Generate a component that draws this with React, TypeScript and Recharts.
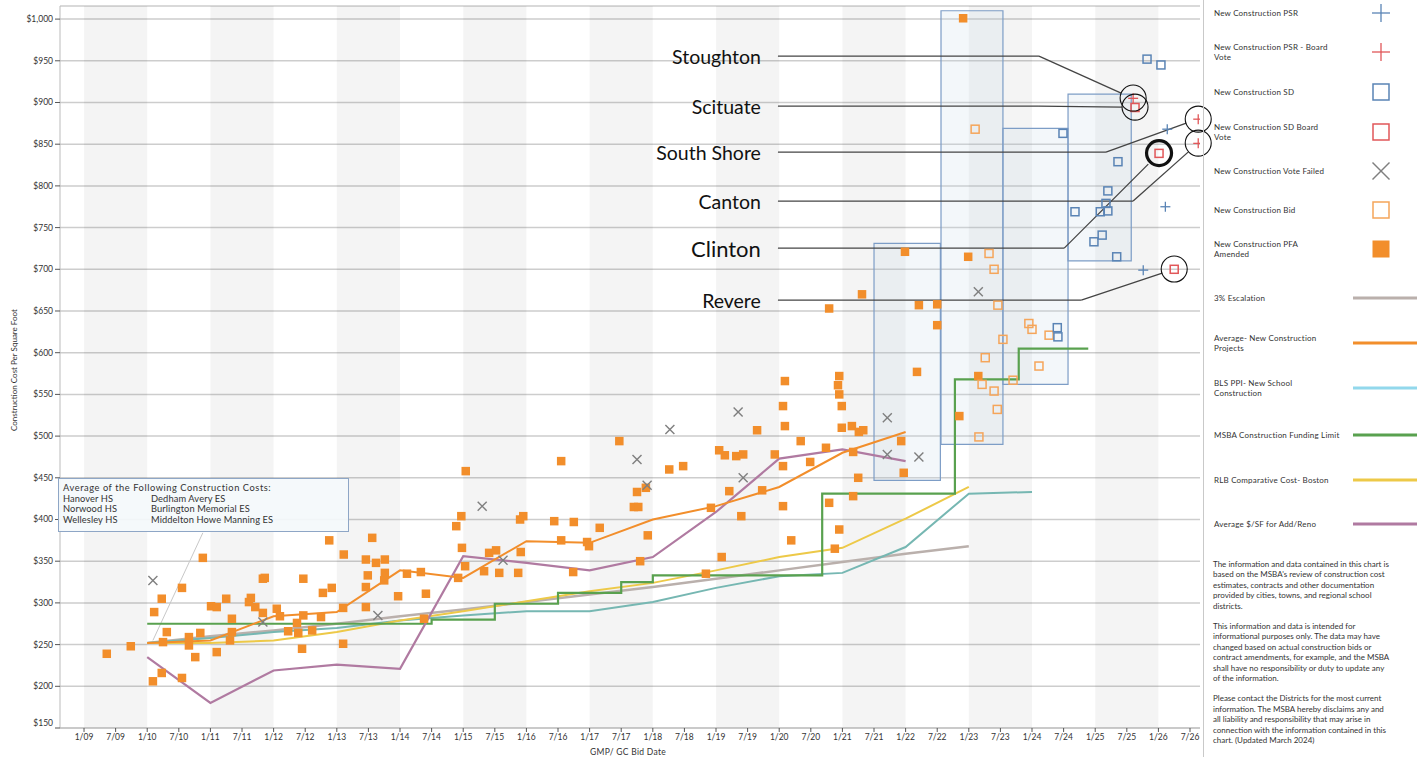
import React from "react";
import {
  ComposedChart,
  XAxis,
  YAxis,
  CartesianGrid,
  Line,
  Scatter,
  ReferenceArea,
  ReferenceLine,
  ReferenceDot,
} from "recharts";

const FONT = "Lato, 'Open Sans', sans-serif";
const TEXT = "#333";

// t = GMP/GC bid date as decimal year, v = construction cost per square foot ($)
type Pt = [number, number];

const pfaAmended: Pt[] = [
  [2009.36, 239], [2009.74, 248], [2010.09, 206], [2010.23, 216], [2010.11, 289], [2010.23, 305],
  [2010.31, 265], [2010.25, 253], [2010.55, 318], [2010.55, 210], [2010.66, 259], [2010.66, 249],
  [2010.76, 235], [2010.84, 264], [2010.88, 354], [2011.01, 296], [2011.1, 295], [2011.1, 241],
  [2011.25, 305], [2011.31, 255], [2011.34, 281], [2011.34, 265], [2011.61, 301], [2011.64, 306],
  [2011.71, 295], [2011.83, 329], [2011.86, 330], [2011.83, 288], [2012.05, 293], [2012.1, 284],
  [2012.23, 266], [2012.37, 276], [2012.39, 264], [2012.47, 285], [2012.47, 329], [2012.45, 245],
  [2012.61, 267], [2012.75, 283], [2012.78, 312], [2012.92, 318], [2012.88, 375], [2013.1, 294],
  [2013.1, 251], [2013.11, 358], [2013.46, 352], [2013.62, 348], [2013.76, 352], [2013.56, 378],
  [2013.49, 333], [2013.76, 336], [2013.75, 327], [2013.46, 319], [2013.46, 295], [2013.97, 308],
  [2014.11, 335], [2014.33, 337], [2014.41, 311], [2014.38, 281], [2014.89, 392], [2014.97, 404],
  [2015.04, 458], [2014.98, 366], [2015.03, 344], [2014.92, 330], [2015.33, 338], [2015.41, 360],
  [2015.52, 363], [2015.57, 336], [2015.87, 336], [2015.9, 400], [2015.95, 404], [2015.91, 361],
  [2016.44, 398], [2016.55, 470], [2016.55, 375], [2016.75, 397], [2016.74, 337], [2016.96, 373],
  [2016.99, 368], [2017.16, 390], [2017.47, 494], [2017.7, 415], [2017.77, 415], [2017.75, 433],
  [2017.89, 438], [2017.92, 381], [2017.8, 350], [2018.26, 460], [2018.48, 464], [2018.84, 335],
  [2018.92, 414], [2019.05, 483], [2019.14, 477], [2019.32, 476], [2019.43, 478], [2019.21, 434],
  [2019.4, 404], [2019.09, 355], [2019.65, 507], [2019.73, 435], [2019.93, 478], [2020.06, 464],
  [2020.09, 566], [2020.06, 536], [2020.09, 512], [2020.34, 494], [2020.49, 469], [2020.06, 416],
  [2020.19, 375], [2020.74, 486], [2020.79, 420], [2020.95, 572], [2020.93, 561], [2020.95, 550],
  [2020.99, 536], [2020.99, 510], [2021.15, 512], [2021.26, 505], [2021.33, 507], [2021.17, 481],
  [2021.25, 450], [2021.17, 428], [2020.95, 388], [2020.88, 365], [2021.93, 494], [2021.97, 456],
  [2022.18, 577], [2022.91, 1001], [2021.99, 721], [2022.99, 715], [2021.31, 670], [2022.21, 657],
  [2022.5, 658], [2022.5, 633], [2022.85, 524], [2023.15, 572], [2020.79, 653],
];

const bid: Pt[] = [
  [2023.1, 868], [2023.32, 719], [2023.4, 700], [2023.46, 657], [2023.95, 635], [2024.0, 628],
  [2024.27, 621], [2023.54, 616], [2023.26, 594], [2024.11, 584], [2023.21, 562], [2023.4, 554],
  [2023.7, 567], [2023.45, 532], [2023.16, 499],
];

const schematicDesign: Pt[] = [
  [2025.82, 952], [2026.04, 945], [2024.49, 863], [2025.36, 829], [2025.2, 794], [2024.68, 769],
  [2025.08, 769], [2025.2, 770], [2025.17, 779], [2025.11, 741], [2024.98, 733], [2025.34, 715],
  [2024.4, 630], [2024.41, 619],
];

const sdBoardVote: Pt[] = [[2025.63, 894], [2026.01, 839], [2026.25, 700]];

const psr: Pt[] = [[2026.14, 868], [2026.11, 775], [2025.76, 699]];

const psrBoardVote: Pt[] = [[2025.6, 905], [2026.63, 880], [2026.63, 851]];

const voteFailed: Pt[] = [
  [2010.09, 327], [2011.83, 277], [2013.65, 285], [2015.3, 416], [2015.63, 351], [2017.75, 472],
  [2017.91, 441], [2018.27, 508], [2019.35, 529], [2019.43, 450], [2021.71, 522], [2021.71, 478],
  [2022.21, 475], [2023.15, 673],
];

const escalation3: Pt[] = [
  [2010, 252], [2011, 260], [2012, 267], [2013, 275], [2014, 284], [2015, 292], [2016, 301],
  [2017, 310], [2018, 319], [2019, 329], [2020, 339], [2021, 349], [2022, 359], [2023, 368],
];

const avgNewConstruction: Pt[] = [
  [2010, 252], [2011, 255], [2012, 284], [2013, 289], [2014, 339], [2015, 330], [2016, 374],
  [2017, 372], [2018, 400], [2019, 416], [2020, 439], [2021, 480], [2022, 505],
];

const blsPpi: Pt[] = [
  [2010, 252], [2011, 258], [2012, 265], [2013, 270], [2014, 279], [2015, 285], [2016, 290],
  [2017, 290], [2018, 301], [2019, 318], [2020, 332], [2021, 336], [2022, 367], [2023, 431],
  [2024, 433],
];

const msbaLimit: Pt[] = [
  [2010, 275], [2014.5, 280], [2015.5, 299], [2016.5, 312], [2017.5, 325], [2018, 333],
  [2020.68, 431], [2022.78, 568], [2023.79, 605], [2024.89, 605],
];

const rlbBoston: Pt[] = [
  [2010, 252], [2011, 252], [2012, 255], [2013, 265], [2014, 279], [2015, 290], [2016, 302],
  [2017, 314], [2018, 324], [2019, 339], [2020, 355], [2021, 366], [2022, 401], [2023, 439],
];

const avgAddReno: Pt[] = [
  [2010, 235], [2011, 180], [2012, 219], [2013, 226], [2014, 221], [2015, 356], [2016, 348],
  [2017, 339], [2018, 355], [2019, 409], [2020, 473], [2021, 484], [2022, 470],
];

const xTickLabels = [
  "1/09", "7/09", "1/10", "7/10", "1/11", "7/11", "1/12", "7/12", "1/13", "7/13", "1/14", "7/14",
  "1/15", "7/15", "1/16", "7/16", "1/17", "7/17", "1/18", "7/18", "1/19", "7/19", "1/20", "7/20",
  "1/21", "7/21", "1/22", "7/22", "1/23", "7/23", "1/24", "7/24", "1/25", "7/25", "1/26", "7/26",
];
const yTicks = [150, 200, 250, 300, 350, 400, 450, 500, 550, 600, 650, 700, 750, 800, 850, 900, 950, 1000];

const shadedYears = [2009, 2011, 2013, 2015, 2017, 2019, 2021, 2023, 2025];

// pending project groups (shaded boxes)
const projectBoxes = [
  { x1: 2021.5, x2: 2022.55, y1: 447, y2: 731 },
  { x1: 2022.56, x2: 2023.54, y1: 490, y2: 1010 },
  { x1: 2023.54, x2: 2024.57, y1: 562, y2: 869 },
  { x1: 2024.57, x2: 2025.57, y1: 710, y2: 910 },
];

// callouts: label anchor, elbow, end of leader, circled point
const callouts = [
  { name: "Stoughton", lv: 955.6, elbow: 2024.11, end: [2025.41, 911.3], circle: [2025.6, 905.3], bold: false },
  { name: "Scituate", lv: 895.7, elbow: 2024.11, end: [2025.42, 894.5], circle: [2025.63, 894.5], bold: false },
  { name: "South Shore", lv: 840.5, elbow: 2025.17, end: [2026.44, 875.3], circle: [2026.63, 880.1], bold: false },
  { name: "Canton", lv: 781.8, elbow: 2025.6, end: [2026.47, 840.5], circle: [2026.63, 851.3], bold: false },
  { name: "Clinton", lv: 725.4, elbow: 2024.51, end: [2025.84, 826.1], circle: [2026.01, 839.3], bold: true },
  { name: "Revere", lv: 663.1, elbow: 2024.78, end: [2026.06, 695.5], circle: [2026.25, 700.3], bold: false },
];
const calloutLabelT = 2019.71;
const calloutLineT = 2019.98;

const toRows = (pts: Pt[]) => pts.map(([t, v]) => ({ t, v }));
const tickValue = (label: string) => {
  const [m, y] = label.split("/");
  return 2000 + Number(y) + (m === "7" ? 0.5 : 0);
};
const xTicks = xTickLabels.map(tickValue);
const fmtX = (t: number) => xTickLabels[xTicks.indexOf(t)] ?? "";
const fmtY = (v: number) => "$" + v.toLocaleString("en-US");

const C = {
  orange: "#f28e2b",
  bid: "#f5a55a",
  blue: "#5a84b5",
  red: "#e15759",
  gray: "#7f7f7f",
  esc: "#bab0ac",
  teal: "#76b7b2",
  ppiKey: "#92d8ec",
  green: "#59a14f",
  yellow: "#edc948",
  purple: "#b07aa1",
};

const filledSquare = (color: string, s: number) => (p: any) => (
  <rect x={p.cx - s / 2} y={p.cy - s / 2} width={s} height={s} fill={color} />
);
const hollowSquare = (color: string, s: number) => (p: any) => (
  <rect x={p.cx - s / 2} y={p.cy - s / 2} width={s} height={s} fill="none" stroke={color} strokeWidth={1.5} />
);
const plus = (color: string, h: number) => (p: any) => (
  <g stroke={color} strokeWidth={1.3}>
    <line x1={p.cx - h} y1={p.cy} x2={p.cx + h} y2={p.cy} />
    <line x1={p.cx} y1={p.cy - h} x2={p.cx} y2={p.cy + h} />
  </g>
);
const cross = (color: string, h: number) => (p: any) => (
  <g stroke={color} strokeWidth={1.4}>
    <line x1={p.cx - h} y1={p.cy - h} x2={p.cx + h} y2={p.cy + h} />
    <line x1={p.cx - h} y1={p.cy + h} x2={p.cx + h} y2={p.cy - h} />
  </g>
);

type LegendItem = { lines: string[]; cy: number; kind: string; color: string };
const legendItems: LegendItem[] = [
  { lines: ["New Construction PSR"], cy: 13, kind: "plus", color: C.blue },
  { lines: ["New Construction PSR - Board", "Vote"], cy: 52, kind: "plus", color: C.red },
  { lines: ["New Construction SD"], cy: 92, kind: "hollow", color: C.blue },
  { lines: ["New Construction SD Board", "Vote"], cy: 132, kind: "hollow", color: C.red },
  { lines: ["New Construction Vote Failed"], cy: 171, kind: "cross", color: C.gray },
  { lines: ["New Construction Bid"], cy: 210, kind: "hollow", color: C.bid },
  { lines: ["New Construction PFA", "Amended"], cy: 249, kind: "filled", color: C.orange },
  { lines: ["3% Escalation"], cy: 298, kind: "line", color: C.esc },
  { lines: ["Average- New Construction", "Projects"], cy: 343, kind: "line", color: C.orange },
  { lines: ["BLS PPI- New School", "Construction"], cy: 388, kind: "line", color: C.ppiKey },
  { lines: ["MSBA Construction Funding Limit"], cy: 435, kind: "line", color: C.green },
  { lines: ["RLB Comparative Cost- Boston"], cy: 480, kind: "line", color: C.yellow },
  { lines: ["Average $/SF for Add/Reno"], cy: 524, kind: "line", color: C.purple },
];

const disclaimer = [
  [
    "The information and data contained in this chart is",
    "based on the MSBA's review of construction cost",
    "estimates, contracts and other documentation",
    "provided by cities, towns, and regional school",
    "districts.",
  ],
  [
    "This information and data is intended for",
    "informational purposes only. The data may have",
    "changed based on actual construction bids or",
    "contract amendments, for example, and the MSBA",
    "shall have no responsibility or duty to update any",
    "of the information.",
  ],
  [
    "Please contact the Districts for the most current",
    "information. The MSBA hereby disclaims any and",
    "all liability and responsibility that may arise in",
    "connection with the information contained in this",
    "chart. (Updated March 2024)",
  ],
];

function LegendIcon({ kind, color }: { kind: string; color: string }) {
  if (kind === "line") {
    return (
      <svg width={64} height={6} style={{ position: "absolute", left: 149, top: -3 }}>
        <line x1={0} y1={3} x2={64} y2={3} stroke={color} strokeWidth={3} />
      </svg>
    );
  }
  const p = { cx: 11, cy: 11 };
  let shape: any;
  if (kind === "plus") shape = plus(color, 9)(p);
  else if (kind === "hollow") shape = hollowSquare(color, 16)(p);
  else if (kind === "cross") shape = cross(color, 8.5)(p);
  else shape = filledSquare(color, 17)(p);
  return (
    <svg width={22} height={22} style={{ position: "absolute", left: 166, top: -11 }}>
      {shape}
    </svg>
  );
}

function Legend() {
  return (
    <div
      style={{
        position: "absolute",
        left: 1203,
        top: 0,
        width: 218,
        height: 757,
        borderLeft: "1px solid #c9c9c9",
        fontFamily: FONT,
        color: TEXT,
      }}
    >
      {legendItems.map((it) => (
        <div key={it.lines[0]} style={{ position: "absolute", left: 0, top: it.cy, width: 218 }}>
          <div
            style={{
              position: "absolute",
              left: 10,
              top: -(it.lines.length * 10) / 2,
              fontSize: 8,
              lineHeight: "10px",
              letterSpacing: 0.2,
              whiteSpace: "nowrap",
            }}
          >
            {it.lines.map((l) => (
              <div key={l}>{l}</div>
            ))}
          </div>
          <LegendIcon kind={it.kind} color={it.color} />
        </div>
      ))}
      <div style={{ position: "absolute", left: 9, top: 559, fontSize: 8, lineHeight: "10.4px" }}>
        {disclaimer.map((para, i) => (
          <div key={i} style={{ marginBottom: 10 }}>
            {para.map((l) => (
              <div key={l} style={{ whiteSpace: "nowrap" }}>
                {l}
              </div>
            ))}
          </div>
        ))}
      </div>
    </div>
  );
}

function CostBox() {
  const row = (a: string, b: string) => (
    <div style={{ display: "flex" }}>
      <span style={{ width: 88 }}>{a}</span>
      <span>{b}</span>
    </div>
  );
  return (
    <div
      style={{
        position: "absolute",
        left: 58,
        top: 478,
        width: 291,
        height: 54,
        border: "1.5px solid #8ea6c6",
        background: "rgba(244,248,251,0.92)",
        fontFamily: FONT,
        fontSize: 9.3,
        lineHeight: "10.6px",
        color: TEXT,
        padding: "4px 0 0 4px",
        boxSizing: "border-box",
        letterSpacing: 0.1,
      }}
    >
      <div style={{ letterSpacing: 0.55 }}>Average of the Following Construction Costs:</div>
      {row("Hanover HS", "Dedham Avery ES")}
      {row("Norwood HS", "Burlington Memorial ES")}
      {row("Wellesley HS", "Middelton Howe Manning ES")}
    </div>
  );
}

const calloutText = (name: string, bold: boolean) => (p: any) => (
  <text
    x={p.cx}
    y={p.cy}
    textAnchor="end"
    dominantBaseline="central"
    fontFamily={FONT}
    fontSize={bold ? 22 : 19.5}
    fill="#111"
  >
    {name}
  </text>
);

const YTick = (p: any) => {
  const v = p.payload.value;
  return (
    <text
      x={p.x}
      y={p.y + (v === 150 ? -5 : 0)}
      textAnchor="end"
      dominantBaseline="central"
      fontSize={8.5}
      fill={TEXT}
      fontFamily={FONT}
    >
      {fmtY(v)}
    </text>
  );
};

export default function App() {
  const tickStyle = { fontSize: 8.5, fill: TEXT, fontFamily: FONT };
  return (
    <div style={{ position: "absolute", left: 0, top: 0, width: 1421, height: 757, background: "#fff" }}>
      <ComposedChart width={1421} height={757} margin={{ top: 6, right: 221, bottom: 0, left: 0 }}>
        {shadedYears.map((y) => (
          <ReferenceArea key={y} x1={y} x2={y + 1} fill="#000" fillOpacity={0.045} stroke="none" ifOverflow="hidden" />
        ))}
        <CartesianGrid vertical={false} stroke="#cdcdcd" strokeWidth={1.5} />
        <XAxis
          type="number"
          dataKey="t"
          domain={[2008.62, 2026.658]}
          allowDataOverflow
          ticks={xTicks}
          tickFormatter={fmtX}
          interval={0}
          height={29}
          tick={tickStyle}
          tickSize={4}
          tickLine={{ stroke: "#555" }}
          axisLine={{ stroke: "#bbb" }}
        />
        <YAxis
          type="number"
          dataKey="v"
          domain={[150, 1015.7]}
          allowDataOverflow
          ticks={yTicks}
          interval={0}
          width={60}
          tick={<YTick />}
          tickSize={5}
          tickLine={{ stroke: "#555" }}
          axisLine={{ stroke: "#bbb" }}
        />
        {projectBoxes.map((b, i) => (
          <ReferenceArea
            key={i}
            x1={b.x1}
            x2={b.x2}
            y1={b.y1}
            y2={b.y2}
            fill="#c9d9ea"
            fillOpacity={0.22}
            stroke="#7d9dc6"
            strokeWidth={1.2}
            ifOverflow="visible"
          />
        ))}
        <ReferenceLine
          segment={[{ x: 2010.88, y: 384 }, { x: 2010.09, y: 255 }]}
          stroke="#c8c8c8"
          strokeWidth={1}
        />
        <Line data={toRows(escalation3)} dataKey="v" stroke={C.esc} strokeWidth={2.5} dot={false} isAnimationActive={false} />
        <Line data={toRows(blsPpi)} dataKey="v" stroke={C.teal} strokeWidth={2} dot={false} isAnimationActive={false} />
        <Line data={toRows(rlbBoston)} dataKey="v" stroke={C.yellow} strokeWidth={2} dot={false} isAnimationActive={false} />
        <Line data={toRows(msbaLimit)} dataKey="v" type="stepAfter" stroke={C.green} strokeWidth={2.2} dot={false} isAnimationActive={false} />
        <Line data={toRows(avgAddReno)} dataKey="v" stroke={C.purple} strokeWidth={2.2} dot={false} isAnimationActive={false} />
        <Line data={toRows(avgNewConstruction)} dataKey="v" stroke={C.orange} strokeWidth={2} dot={false} isAnimationActive={false} />
        <Scatter data={toRows(pfaAmended)} shape={filledSquare(C.orange, 8.5)} isAnimationActive={false} />
        <Scatter data={toRows(bid)} shape={hollowSquare(C.bid, 8)} isAnimationActive={false} />
        <Scatter data={toRows(schematicDesign)} shape={hollowSquare(C.blue, 8)} isAnimationActive={false} />
        <Scatter data={toRows(sdBoardVote)} shape={hollowSquare(C.red, 8)} isAnimationActive={false} />
        <Scatter data={toRows(psr)} shape={plus(C.blue, 5)} isAnimationActive={false} />
        <Scatter data={toRows(psrBoardVote)} shape={plus(C.red, 5)} isAnimationActive={false} />
        <Scatter data={toRows(voteFailed)} shape={cross(C.gray, 4.5)} isAnimationActive={false} />
        {callouts.map((c) => (
          <ReferenceLine
            key={c.name + "-h"}
            segment={[{ x: calloutLineT, y: c.lv }, { x: c.elbow, y: c.lv }]}
            stroke="#444"
            strokeWidth={1.3}
            ifOverflow="visible"
          />
        ))}
        {callouts.map((c) => (
          <ReferenceLine
            key={c.name + "-d"}
            segment={[{ x: c.elbow, y: c.lv }, { x: c.end[0], y: c.end[1] }]}
            stroke="#444"
            strokeWidth={1.3}
            ifOverflow="visible"
          />
        ))}
        {callouts.map((c) => (
          <ReferenceDot
            key={c.name + "-c"}
            x={c.circle[0]}
            y={c.circle[1]}
            r={c.bold ? 12.5 : 13}
            fill="none"
            stroke="#111"
            strokeWidth={c.bold ? 3.2 : 1.1}
            ifOverflow="visible"
          />
        ))}
        {callouts.map((c) => (
          <ReferenceDot
            key={c.name + "-t"}
            x={calloutLabelT}
            y={c.lv}
            r={0}
            shape={calloutText(c.name, c.bold)}
            ifOverflow="visible"
          />
        ))}
      </ComposedChart>
      <CostBox />
      <Legend />
      <div
        style={{
          position: "absolute",
          left: 14,
          top: 370,
          transform: "translate(-50%, -50%) rotate(-90deg)",
          fontFamily: FONT,
          fontSize: 8,
          color: TEXT,
          whiteSpace: "nowrap",
        }}
      >
        Construction Cost Per Square Foot
      </div>
      <div
        style={{
          position: "absolute",
          left: 628,
          top: 752,
          transform: "translate(-50%, -50%)",
          fontFamily: FONT,
          fontSize: 8.5,
          color: TEXT,
          whiteSpace: "nowrap",
          letterSpacing: 0.3,
        }}
      >
        GMP/ GC Bid Date
      </div>
    </div>
  );
}
